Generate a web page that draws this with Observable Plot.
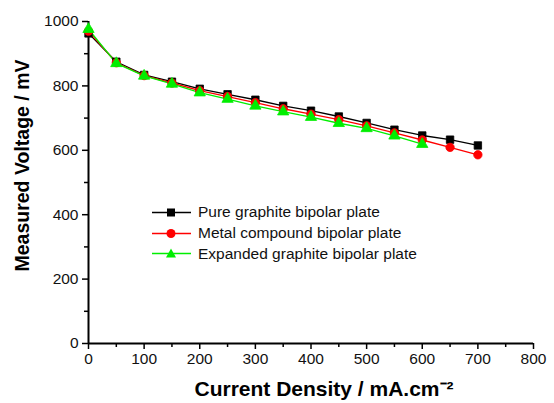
<!DOCTYPE html>
<html>
<head>
<meta charset="utf-8">
<script src="https://cdn.jsdelivr.net/npm/d3@7"></script>
<script src="https://cdn.jsdelivr.net/npm/@observablehq/plot@0.6"></script>
<style>
  body { margin: 0; background: #fff; }
  #wrap { position: relative; width: 554px; height: 403px; font-family: "Liberation Sans", Arial, Helvetica, sans-serif; }
  #legend { position: absolute; left: 150px; top: 202px; font-size: 15.5px; color: #111; }
  #legend .row { display: flex; align-items: center; height: 20.7px; }
  #legend svg { margin-right: 5px; }
</style>
</head>
<body>
<div id="wrap"></div>
<script>
const currentDensity = [0, 50, 100, 150, 200, 250, 300, 350, 400, 450, 500, 550, 600, 650, 700];
const seriesNames = ["Pure graphite bipolar plate", "Metal compound bipolar plate", "Expanded graphite bipolar plate"];
const pureGraphite = [963, 875, 834, 813, 791, 774, 757, 738, 723, 705, 685, 664, 646, 633, 615];
const metalCompound = [970, 872, 832, 809, 785, 767, 748, 729, 712, 695, 676, 654, 632, 609, 586];
const expandedGraphite = [976, 870, 831, 806, 779, 759, 738, 720, 703, 684, 668, 645, 619];
const seriesColors = ["#000000", "#ff0000", "#00ee00"];
const seriesSymbols = ["square", "circle", "triangle"];
const xTicks = [0, 100, 200, 300, 400, 500, 600, 700, 800];
const xMinorTicks = [50, 150, 250, 350, 450, 550, 650, 750];
const yTicks = [0, 200, 400, 600, 800, 1000];
const yMinorTicks = [100, 300, 500, 700, 900];
const xTitle = "Current Density / mA.cm⁻²";
const yTitle = "Measured Voltage / mV";

const allValues = [pureGraphite, metalCompound, expandedGraphite];
const rows = [];
allValues.forEach((vals, i) => vals.forEach((v, j) => rows.push({series: seriesNames[i], x: currentDensity[j], y: v})));

const chart = Plot.plot({
  width: 554,
  height: 403,
  marginLeft: 88,
  marginRight: 21,
  marginTop: 21,
  marginBottom: 60,
  style: {fontFamily: '"Liberation Sans", Arial, Helvetica, sans-serif', fontSize: "15.5px", color: "#111", background: "#fff", overflow: "visible"},
  x: {domain: [0, 800]},
  y: {domain: [0, 1000]},
  color: {domain: seriesNames, range: seriesColors},
  symbol: {domain: seriesNames, range: seriesSymbols},
  marks: [
    Plot.axisX(xTicks, {tickSize: 6, tickPadding: 3, strokeWidth: 1.5, stroke: "#000", label: null, fontSize: 15.5, tickFormat: d => String(d)}),
    Plot.axisX(xMinorTicks, {tickSize: 4, strokeWidth: 1.5, stroke: "#000", tickFormat: () => "", label: null}),
    Plot.axisY(yTicks, {tickSize: 6, tickPadding: 4, strokeWidth: 1.5, stroke: "#000", label: null, fontSize: 15.5, tickFormat: d => String(d)}),
    Plot.axisY(yMinorTicks, {tickSize: 4, strokeWidth: 1.5, stroke: "#000", tickFormat: () => "", label: null}),
    Plot.ruleY([0], {stroke: "#000", strokeWidth: 2}),
    Plot.ruleX([0], {stroke: "#000", strokeWidth: 2}),
    Plot.line(rows, {x: "x", y: "y", z: "series", stroke: "series", strokeWidth: 1.3}),
    Plot.dot(rows, {x: "x", y: "y", fill: "series", stroke: "series", symbol: "series", r: 4.2, strokeWidth: 0.8}),
    Plot.text([yTitle], {frameAnchor: "left", textAnchor: "middle", rotate: -90, dx: -66, dy: -17, fontWeight: "bold", fontSize: 19.5, fill: "#000"}),
    Plot.text([xTitle], {frameAnchor: "bottom", textAnchor: "middle", dx: 13, dy: 52, fontWeight: "bold", fontSize: 21, fill: "#000"})
  ]
});

const wrap = document.getElementById("wrap");
wrap.appendChild(chart);

const legend = document.createElement("div");
legend.id = "legend";
seriesNames.forEach((name, i) => {
  const row = document.createElement("div");
  row.className = "row";
  const sym = seriesSymbols[i];
  const c = seriesColors[i];
  let shape;
  if (sym === "square") shape = `<rect x="17" y="6.5" width="8" height="8" fill="${c}"/>`;
  else if (sym === "circle") shape = `<circle cx="21" cy="10.5" r="4.5" fill="${c}"/>`;
  else shape = `<path d="M21,5.5 L26,14.5 L16,14.5 Z" fill="${c}"/>`;
  row.innerHTML = `<svg width="43" height="21"><line x1="2" x2="41" y1="10.5" y2="10.5" stroke="${c}" stroke-width="1.3"/>${shape}</svg><span>${name}</span>`;
  legend.appendChild(row);
});
wrap.appendChild(legend);
</script>
</body>
</html>
